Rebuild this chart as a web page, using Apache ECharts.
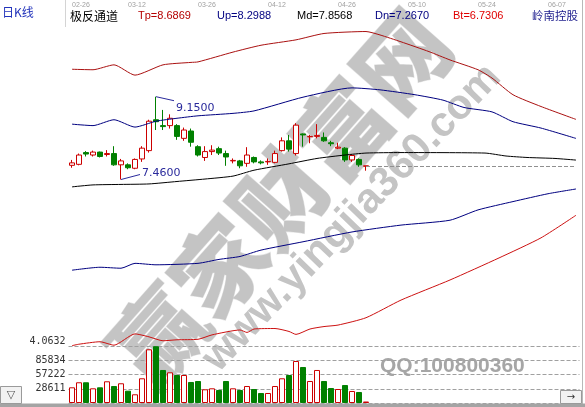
<!DOCTYPE html>
<html>
<head>
<meta charset="utf-8">
<script src="https://cdn.jsdelivr.net/npm/echarts@6/dist/echarts.min.js"></script>
<style>
  html, body { margin: 0; padding: 0; background: #ffffff; }
  #main { width: 585px; height: 407px; }
</style>
</head>
<body>
<div id="main"></div>
<script>
// ---- daily bars (open, close, low, high) ----
const opens  = [7.75,7.77,8.01,7.96,8.02,7.97,7.99,7.76,7.76,7.69,7.88,8.05,8.68,8.56,8.56,8.56,8.30,8.45,8.13,7.91,8.03,8.09,7.99,7.84,7.84,7.79,7.91,7.82,7.82,7.81,8.05,8.25,7.99,8.39,8.33,8.34,8.32,8.21,8.10,8.10,7.86,7.87,7.73];
const closes = [7.80,7.96,7.98,8.02,7.93,7.99,7.76,7.84,7.70,7.87,8.10,8.65,8.64,8.54,8.71,8.34,8.47,8.22,7.96,8.03,8.06,8.00,7.92,7.85,7.74,7.96,7.82,7.80,7.83,7.99,8.25,8.08,8.57,8.37,8.34,8.36,8.25,8.19,8.12,7.86,7.95,7.76,7.74];
const lows   = [7.70,7.75,7.93,7.93,7.91,7.93,7.74,7.46,7.67,7.67,7.82,8.01,8.47,8.47,8.50,8.27,8.25,8.13,7.93,7.84,7.96,7.96,7.74,7.79,7.69,7.72,7.79,7.77,7.76,7.79,8.03,8.03,7.95,8.13,8.20,8.30,8.23,8.14,8.08,7.82,7.82,7.72,7.64];
const highs  = [7.86,7.99,8.04,8.05,8.03,8.06,8.14,7.88,7.79,7.89,8.14,8.68,9.15,8.88,8.79,8.59,8.52,8.50,8.16,8.14,8.16,8.13,8.05,7.89,7.86,8.12,7.93,7.85,7.89,8.05,8.32,8.37,8.61,8.40,8.37,8.59,8.42,8.25,8.21,8.12,7.98,7.89,7.74];
const volumes = [31500,41600,41600,29500,31500,43600,34100,39600,24700,17500,49600,107800,114000,66300,61600,56200,56200,42200,44200,27500,29500,26100,44200,29500,26100,34100,28100,20100,20100,34100,49600,56200,84300,72300,44200,66300,44200,30100,28100,36100,24100,22100,3000];

// ---- channel lines, [day index, price]; the channel is projected past the last bar ----
const tpLine = [[0,9.71],[3,9.70],[6,9.80],[9,9.59],[13,9.80],[17,9.85],[18,9.86],[23,10.06],[27,10.20],[32,10.31],[36,10.44],[42,10.48],[44,10.41],[47,10.27],[51,10.07],[54,9.90],[58,9.70],[60,9.53],[63,9.19],[67,8.95],[72,8.6869]];
const upLine = [[0,8.59],[3,8.56],[6,8.68],[9,8.53],[12,8.65],[15,8.71],[18,8.76],[23,8.81],[26,8.86],[33,9.14],[40,9.33],[44,9.29],[49,9.19],[53,9.08],[56,8.93],[60,8.84],[63,8.64],[67,8.51],[72,8.2988]];
const mdLine = [[0,7.31],[3,7.35],[7,7.36],[11,7.37],[15,7.42],[19,7.47],[23,7.53],[26,7.65],[31,7.78],[35,7.89],[39,7.96],[42,8.00],[47,8.01],[59,8.00],[62,7.94],[65,7.91],[69,7.89],[72,7.8568]];
const dnLine = [[0,5.61],[4,5.67],[7,5.65],[9,5.75],[12,5.72],[18,5.75],[21,5.83],[24,5.89],[27,6.02],[33,6.19],[40,6.39],[47,6.53],[54,6.63],[58,6.84],[63,7.01],[68,7.17],[72,7.267]];
const btLine = [[0,4.07],[1,4.10],[4,4.15],[6,4.08],[9,4.31],[11,4.25],[13,4.17],[15,4.19],[18,4.20],[20,4.29],[24,4.39],[25,4.34],[26,4.41],[29,4.42],[31,4.36],[32,4.30],[34,4.41],[36,4.46],[38,4.49],[42,4.64],[47,5.00],[54,5.41],[61,5.86],[67,6.27],[72,6.7306]];

// ---- axis ticks ----
const slotCount = 73;
const dateTickIdx = [0, 8, 18, 28, 38, 48, 58, 68];
const dateTickLabels = ['02-26','03-12','03-26','04-12','04-26','05-10','05-24','06-07'];
const priceTicks = [4.0632];
const priceMin = 4.0632, priceMax = 10.613;
const volumeTicks = [28611, 57222, 85834];
const volumeStep = 28611, volumeMax = 114444;

const slots = Array.from({ length: slotCount }, (_, i) => String(i));
const candles = opens.map((o, i) => [o, closes[i], lows[i], highs[i]]);
const RED = '#cc0000', GREEN = '#008000', NAVY = '#000080';

const volumeBars = volumes.map((v, i) => {
  const up = closes[i] >= opens[i];
  return { value: v, itemStyle: up
    ? { color: '#ffffff', borderColor: RED, borderWidth: 1 }
    : { color: GREEN, borderColor: GREEN, borderWidth: 1 } };
});

const hiIdx = highs.indexOf(Math.max(...highs));
const loIdx = lows.indexOf(Math.min(...lows));
const extremes = [[hiIdx, highs[hiIdx], 1], [loIdx, lows[loIdx], -1]];
const lastClose = closes[closes.length - 1];
const last = a => a[a.length - 1][1].toFixed(4);

const chart = echarts.init(document.getElementById('main'), null, { renderer: 'canvas' });
const latin = 'Liberation Sans, Arial, sans-serif';
const cjk = '"Noto Sans CJK SC", sans-serif';
const mono = '"DejaVu Sans Mono", monospace';

function headText(x, text, color, font) {
  return { type: 'text', x: x, y: 16, z: 10, silent: true,
    style: { text: text, fill: color, font: font, align: 'left', verticalAlign: 'middle' } };
}

chart.setOption({
  animation: false,
  backgroundColor: '#ffffff',
  grid: [
    { left: 68.5, width: 511, top: 25, height: 321 },
    { left: 68.5, width: 511, top: 346, height: 57 }
  ],
  xAxis: [
    { type: 'category', gridIndex: 0, data: slots, position: 'top', boundaryGap: true,
      axisLine: { show: false }, axisTick: { show: false }, splitLine: { show: false },
      axisLabel: {
        interval: (i) => dateTickIdx.includes(i),
        formatter: (v, i) => { const k = dateTickIdx.indexOf(Number(v)); return k >= 0 ? dateTickLabels[k] : ''; },
        color: '#a0a0a0', fontSize: 7, fontFamily: latin, align: 'left', margin: 16
      } },
    { type: 'category', gridIndex: 1, data: slots, boundaryGap: true, show: false }
  ],
  yAxis: [
    { type: 'value', gridIndex: 0, min: priceMin, max: priceMax, scale: true,
      splitLine: { show: false }, axisLine: { show: false }, axisTick: { show: false },
      axisLabel: { customValues: priceTicks, formatter: v => v.toFixed(4),
        fontFamily: mono, fontSize: 10, color: '#333333', verticalAlign: 'bottom', margin: 3 } },
    { type: 'value', gridIndex: 1, min: 0, max: volumeMax, interval: volumeStep,
      axisLine: { show: false }, axisTick: { show: false },
      splitLine: { show: true, lineStyle: { color: '#a0a0a0', type: [4, 2], width: 1 } },
      axisLabel: {
        formatter: (v) => { const t = volumeTicks.find(x => Math.abs(x - v) < 3); return t ? String(t) : ''; },
        fontFamily: mono, fontSize: 10, color: '#333333', margin: 3 } }
  ],
  series: [
    { type: 'candlestick', name: 'K', xAxisIndex: 0, yAxisIndex: 0, data: candles, barWidth: 5,
      itemStyle: { color: '#ffffff', color0: GREEN, borderColor: RED, borderColor0: GREEN, borderWidth: 1 },
      markLine: { silent: true, symbol: ['none', 'none'], label: { show: false },
        lineStyle: { color: '#909090', type: [4, 2], width: 1 },
        data: [[{ coord: [String(closes.length - 1), lastClose] }, { coord: [String(slotCount - 1), lastClose] }]] } },
    { type: 'line', name: 'Tp', data: tpLine, showSymbol: false, lineStyle: { color: '#aa1111', width: 1 }, smooth: 0.2 },
    { type: 'line', name: 'Up', data: upLine, showSymbol: false, lineStyle: { color: NAVY, width: 1 }, smooth: 0.2 },
    { type: 'line', name: 'Md', data: mdLine, showSymbol: false, lineStyle: { color: '#000000', width: 1 }, smooth: 0.2 },
    { type: 'line', name: 'Dn', data: dnLine, showSymbol: false, lineStyle: { color: NAVY, width: 1 }, smooth: 0.2 },
    { type: 'line', name: 'Bt', data: btLine, showSymbol: false, lineStyle: { color: '#cc1111', width: 1 }, smooth: 0.2 },
    { type: 'custom', name: 'extremes', xAxisIndex: 0, yAxisIndex: 0, data: extremes, z: 5, silent: true,
      renderItem: function (params, api) {
        const v = api.value(1);
        const p = api.coord([api.value(0), v]);
        const high = api.value(2) > 0;
        const end = high ? [p[0] + 18, p[1] + 4] : [p[0] + 19, p[1] - 5];
        return { type: 'group', children: [
          { type: 'polyline', shape: { points: [p, end] }, style: { stroke: '#2a2a9c', lineWidth: 1, fill: null } },
          { type: 'text', x: end[0] + 2, y: high ? end[1] + 2 : end[1] - 1,
            style: { text: v.toFixed(4), fill: '#2a2a9c', font: '11px "DejaVu Sans"', align: 'left',
              verticalAlign: high ? 'top' : 'middle' } }
        ] };
      } },
    { type: 'bar', name: 'VOL', xAxisIndex: 1, yAxisIndex: 1, data: volumeBars, barWidth: 6 }
  ],
  graphic: [
    // watermark
    { type: 'text', x: 280, y: 198, rotation: 48.5 * Math.PI / 180, z: -1, silent: true,
      style: { text: '赢家财富网', font: '900 92px "Noto Sans CJK SC"', fill: '#c4c4c4',
        align: 'center', verticalAlign: 'middle', stroke: '#e8e8e8', lineWidth: 1 } },
    { type: 'text', x: 352, y: 218, rotation: 46 * Math.PI / 180, z: -1, silent: true,
      style: { text: 'www.yingjia360.com', font: 'bold 42px "Liberation Sans"', fill: '#c4c4c4',
        align: 'center', verticalAlign: 'middle' } },
    { type: 'text', x: 380, y: 366, z: -1, silent: true,
      style: { text: 'QQ:100800360', font: 'bold 21px "Liberation Sans"', fill: '#a6a6a6',
        align: 'left', verticalAlign: 'middle' } },
    // header
    { type: 'text', x: 2, y: 12, z: 10, silent: true,
      style: { text: '日K线', font: '12px ' + cjk, fill: '#2233bb', align: 'left', verticalAlign: 'middle' } },
    headText(70, '极反通道', '#000000', '12px ' + cjk),
    headText(138, 'Tp=' + last(tpLine), '#b40000', '11px ' + latin),
    headText(217, 'Up=' + last(upLine), NAVY, '11px ' + latin),
    headText(297, 'Md=' + last(mdLine), '#000000', '11px ' + latin),
    headText(375, 'Dn=' + last(dnLine), NAVY, '11px ' + latin),
    headText(453, 'Bt=' + last(btLine), '#e00000', '11px ' + latin),
    headText(532, '岭南控股', '#1a1a8c', '11.5px ' + cjk),
    // frame pieces
    { type: 'line', z: 10, silent: true, shape: { x1: 65.5, y1: 0, x2: 65.5, y2: 27 }, style: { stroke: '#d4d4d4', lineWidth: 1 } },
    { type: 'line', z: 10, silent: true, shape: { x1: 582.5, y1: 0, x2: 582.5, y2: 404 }, style: { stroke: '#b8b8b8', lineWidth: 1 } },
    { type: 'rect', z: 10, silent: true, shape: { x: 0, y: 403.5, width: 585, height: 4 }, style: { fill: '#a4a4a4' } },
    { type: 'rect', z: 10, silent: true, shape: { x: 0.5, y: 386.5, width: 21, height: 17 }, style: { fill: '#f2f2f2', stroke: '#9a9a9a', lineWidth: 1 } },
    { type: 'text', x: 11, y: 395, z: 11, silent: true,
      style: { text: '▽', font: '11px "DejaVu Sans"', fill: '#555555', align: 'center', verticalAlign: 'middle' } },
    { type: 'rect', z: 10, silent: true, shape: { x: 560.5, y: 390.5, width: 21, height: 13 }, style: { fill: '#f2f2f2', stroke: '#9a9a9a', lineWidth: 1 } },
    { type: 'text', x: 571, y: 397, z: 11, silent: true,
      style: { text: '→', font: '10px "DejaVu Sans"', fill: '#333333', align: 'center', verticalAlign: 'middle' } }
  ]
});
</script>
</body>
</html>
